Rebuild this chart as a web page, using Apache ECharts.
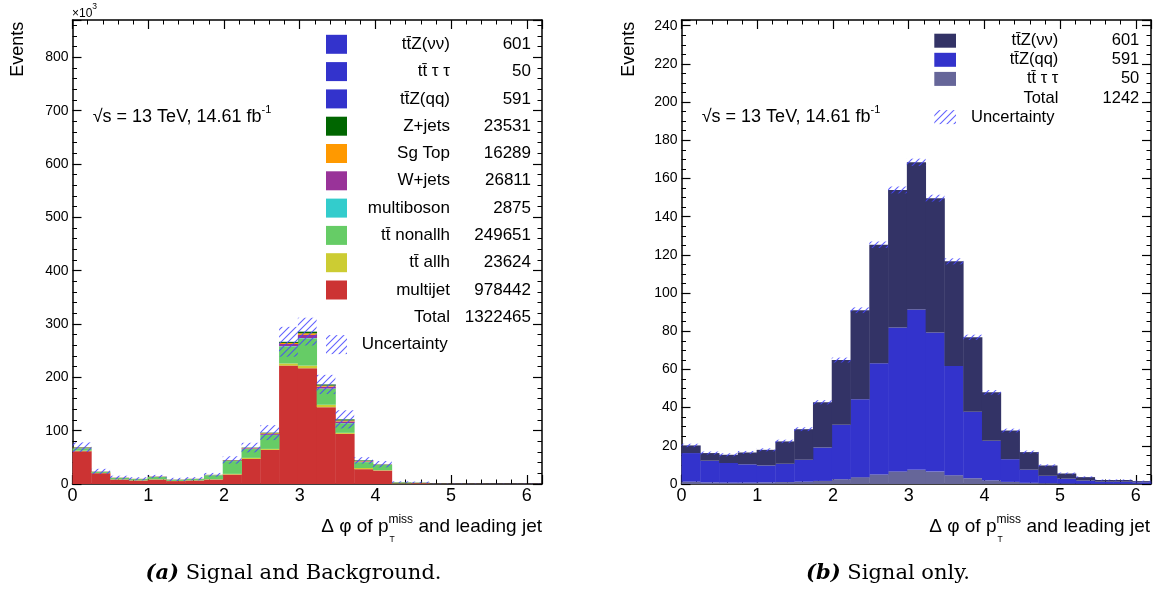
<!DOCTYPE html>
<html>
<head>
<meta charset="utf-8">
<script src="https://cdn.jsdelivr.net/npm/echarts@6/dist/echarts.min.js"></script>
<style>html,body{margin:0;padding:0;background:#fff}#chart{width:1165px;height:596px}</style>
</head>
<body>
<div id="chart"></div>
<script>
// ---------------- DATA ----------------
const N_BINS = 25, X_MIN = 0, X_MAX = 6.2;
const xTickLabels = [0, 1, 2, 3, 4, 5, 6];

// Left panel (Signal and Background), events x10^3, stack order bottom -> top
const multijet   = [61.5,20.3,8.4,6.6,8.4,5.5,6.6,8.4,17.8,47,64,222,217,144,94,27.8,25.3,1.0,1.5,0.3,0.2,0.2,0.1,0.1,0.1];
const ttAllh     = [1.0,0.4,0.3,0.3,0.4,0.3,0.3,0.5,1.2,2.0,1.8,4.0,5.0,4.6,2.0,2.2,0.7,0.1,0.1,0.05,0.02,0.02,0.01,0.01,0.01];
const ttNonallh  = [4.5,2.0,2.6,2.3,4.4,2.2,2.4,7.5,24,16.5,26,32,51,30,18,11,10,2.0,1.0,0.2,0.1,0.1,0.05,0.05,0.05];
const multiboson = [0.1,0.05,0.05,0.05,0.05,0.05,0.05,0.1,0.2,0.3,0.4,0.5,0.6,0.4,0.3,0.2,0.1,0.02,0.02,0.01,0.01,0.01,0,0,0];
const wJets      = [0.8,0.3,0.3,0.2,0.4,0.2,0.2,0.3,0.8,1.2,1.8,4.0,6.0,3.5,3.0,1.2,0.4,0.2,0.2,0.05,0.05,0.05,0.03,0.03,0.03];
const sgTop      = [0.5,0.2,0.2,0.15,0.2,0.15,0.15,0.2,0.5,0.6,1.2,2.0,3.0,2.0,1.8,0.8,0.3,0.1,0.1,0.05,0.03,0.03,0.02,0.02,0.02];
const zJets      = [0.6,0.2,0.2,0.15,0.2,0.15,0.15,0.2,0.5,0.6,1.0,2.0,3.0,2.0,2.0,1.0,0.3,0.1,0.1,0.05,0.03,0.03,0.02,0.02,0.02];
const leftUnc    = [9,5,3.5,3,3,3,3,3.5,7,9,14,28,26,18,17,6,6,1.5,1.5,0.3,0.3,0.3,0.2,0.2,0.2];

// Right panel (Signal only), events
const ttTauTau = [1.2,0.8,0.7,0.7,0.8,1.0,1.2,1.6,2.5,3.6,5.0,6.6,7.4,6.5,4.6,3.0,1.9,1.1,0.6,0.4,0.2,0.1,0.1,0.1,0.1];
const ttZqq    = [15.0,11.4,10.3,9.6,8.9,9.6,11.5,17.5,28.5,40.8,58.2,75.4,84.0,72.9,57.2,34.8,20.7,11.9,6.9,3.9,2.6,1.7,1.1,1.1,0.8];
const ttZvv    = [4.0,4.0,4.3,6.2,8.2,11.7,16.0,23.7,33.9,46.6,62.1,72.0,77.1,70.3,54.8,39.0,25.4,15.0,9.2,5.4,2.7,1.8,0.9,0.9,0.6];
const rightUnc = [0.9,0.8,0.8,0.8,0.8,0.9,1.0,1.1,1.3,1.5,1.7,1.8,1.9,1.8,1.6,1.4,1.2,1.0,0.8,0.6,0.5,0.4,0.3,0.3,0.3];

// Legends
const leftProcNames  = ['multijet','tt\u0304 allh','tt\u0304 nonallh','multiboson','W+jets','Sg Top','Z+jets','tt\u0304Z(qq)','tt\u0304 \u03c4 \u03c4','tt\u0304Z(\u03bd\u03bd)'];
const leftProcYields = ['978442','23624','249651','2875','26811','16289','23531','591','50','601'];
const leftTotalYield = '1322465';
const rightProcNames  = ['tt\u0304 \u03c4 \u03c4','tt\u0304Z(qq)','tt\u0304Z(\u03bd\u03bd)'];
const rightProcYields = ['50','591','601'];
const rightTotalYield = '1242';
const yLeftTicks  = { max: 870, interval: 100 };
const yRightTicks = { max: 243, interval: 20 };
const lumiText = '\u221as = 13 TeV, 14.61 fb';
const captions = [['(a)', ' Signal and Background.'], ['(b)', ' Signal only.']];

// ---------------- STYLE ----------------
const leftColors  = ['#cc3333','#cccc33','#66cc66','#33cccc','#993399','#ff9900','#006600','#3333cc','#3333cc','#3333cc'];
const rightColors = ['#666699','#3333cc','#333366'];
const FAM = '"Liberation Sans", Arial, Helvetica, sans-serif';
const SERIF = '"DejaVu Serif", "Liberation Serif", serif';

const leftValuesKilo = [multijet, ttAllh, ttNonallh, multiboson, wJets, sgTop, zJets,
  ttZqq.map(v => v / 1000), ttTauTau.map(v => v / 1000), ttZvv.map(v => v / 1000)];
const rightValues = [ttTauTau, ttZqq, ttZvv];

function makeHatch(color, s) {
  const c = document.createElement('canvas'); c.width = s; c.height = s;
  const g = c.getContext('2d'); g.strokeStyle = color; g.lineWidth = 1.1;
  g.beginPath();
  g.moveTo(0, s); g.lineTo(s, 0);
  g.moveTo(-s, s); g.lineTo(s, -s);
  g.moveTo(0, 2 * s); g.lineTo(2 * s, 0);
  g.stroke();
  return c;
}
const hatchImg = makeHatch('rgba(70,70,255,0.85)', 7);
const hatchFill = { image: hatchImg, repeat: 'repeat' };

const binW = (X_MAX - X_MIN) / N_BINS;
function renderBin(params, api) {
  const a = api.coord([api.value(0), api.value(3)]);
  const b = api.coord([api.value(1), api.value(2)]);
  return { type: 'rect', shape: { x: a[0], y: a[1], width: b[0] - a[0] + 0.4, height: b[1] - a[1] },
           style: { fill: api.visual('color') } };
}
function renderHatch(params, api) {
  const a = api.coord([api.value(0), api.value(3)]);
  const b = api.coord([api.value(1), api.value(2)]);
  return { type: 'rect', shape: { x: a[0], y: a[1], width: b[0] - a[0], height: b[1] - a[1] },
           style: { fill: hatchFill } };
}
function stackSeries(valuesList, names, colors, axIdx, unc) {
  const cum = new Array(N_BINS).fill(0);
  const out = valuesList.map((vals, k) => {
    const data = vals.map((v, i) => { const base = cum[i]; cum[i] += v; return [X_MIN + i * binW, X_MIN + (i + 1) * binW, base, cum[i]]; });
    return { type: 'custom', name: names[k], xAxisIndex: axIdx, yAxisIndex: axIdx, renderItem: renderBin,
             encode: { x: [0, 1], y: [2, 3] }, itemStyle: { color: colors[k] }, data, clip: true, silent: true };
  });
  const udata = unc.map((u, i) => [X_MIN + i * binW, X_MIN + (i + 1) * binW, Math.max(0, cum[i] - u), cum[i] + u]);
  out.push({ type: 'custom', name: 'Uncertainty', xAxisIndex: axIdx, yAxisIndex: axIdx, renderItem: renderHatch,
             encode: { x: [0, 1], y: [2, 3] }, data: udata, clip: true, silent: true, z: 5 });
  return out;
}

function xAx(grid, pos, labels) {
  return { type: 'value', gridIndex: grid, position: pos, min: X_MIN, max: X_MAX, interval: 1,
    axisLine: { show: true, onZero: false, lineStyle: { color: '#000', width: 1.5 } },
    axisTick: { show: true, inside: true, length: 9, lineStyle: { color: '#000', width: 1.2 } },
    minorTick: { show: true, splitNumber: 5, length: 4.5, lineStyle: { color: '#000', width: 1 } },
    splitLine: { show: false }, minorSplitLine: { show: false },
    axisLabel: { show: labels, color: '#000', fontSize: 18, fontFamily: FAM, margin: 3,
      formatter: v => (xTickLabels.indexOf(Math.round(v * 1000) / 1000) >= 0 ? String(Math.round(v)) : '') } };
}
function yAx(grid, pos, labels, t, minorSplit) {
  return { type: 'value', gridIndex: grid, position: pos, min: 0, max: t.max, interval: t.interval,
    axisLine: { show: true, onZero: false, lineStyle: { color: '#000', width: 1.5 } },
    axisTick: { show: true, inside: true, length: 9, lineStyle: { color: '#000', width: 1.2 } },
    minorTick: { show: true, splitNumber: minorSplit, length: 4.5, lineStyle: { color: '#000', width: 1 } },
    splitLine: { show: false }, minorSplitLine: { show: false },
    axisLabel: { show: labels, color: '#000', fontSize: 14, fontFamily: FAM, margin: 4,
      formatter: v => (Math.abs(v / t.interval - Math.round(v / t.interval)) < 1e-6 ? String(Math.round(v)) : '') } };
}

// ---------------- TEXT HELPERS ----------------
const mctx = document.createElement('canvas').getContext('2d');
function tw(text, size, fam, weight, style) {
  mctx.font = (style || 'normal') + ' ' + (weight || 'normal') + ' ' + size + 'px ' + (fam || FAM);
  return mctx.measureText(text).width;
}
function T(x, y, text, size, o) {
  o = o || {};
  const al = o.align || 'left', va = o.valign || 'middle';
  return { type: 'text', x, y, rotation: o.rotation || 0, silent: true, z: 100,
    style: { text, fill: o.color || '#000',
      font: (o.style || 'normal') + ' ' + (o.weight || 'normal') + ' ' + size + 'px ' + (o.fam || FAM),
      align: al, verticalAlign: va, textAlign: al, textVerticalAlign: va } };
}
function R(x, y, w, h, fill) {
  return { type: 'rect', silent: true, z: 100, shape: { x, y, width: w, height: h }, style: { fill } };
}

const G = [];
// Left legend
(function () {
  const boxX = 326, boxW = 21, boxH = 19, y0 = 44.3, dy = 27.3, nameR = 450, valR = 531, fs = 17;
  const order = leftProcNames.map((_, i) => leftProcNames.length - 1 - i);
  order.forEach((idx, r) => {
    const y = y0 + r * dy;
    G.push(R(boxX, y - boxH / 2, boxW, boxH, leftColors[idx]));
    G.push(T(nameR, y, leftProcNames[idx], fs, { align: 'right' }));
    G.push(T(valR, y, leftProcYields[idx], fs, { align: 'right' }));
  });
  let y = y0 + order.length * dy;
  G.push(T(nameR, y, 'Total', fs, { align: 'right' }));
  G.push(T(valR, y, leftTotalYield, fs, { align: 'right' }));
  y += dy;
  G.push(R(boxX, y - boxH / 2, boxW, boxH, hatchFill));
  G.push(T(361.7, y, 'Uncertainty', fs));
})();
// Right legend
(function () {
  const boxX = 934.3, boxW = 21.7, boxH = 14, y0 = 40.7, dy = 19.1, nameR = 1058.3, valR = 1139.3, fs = 16.5;
  const order = rightProcNames.map((_, i) => rightProcNames.length - 1 - i);
  order.forEach((idx, r) => {
    const y = y0 + r * dy;
    G.push(R(boxX, y - boxH / 2, boxW, boxH, rightColors[idx]));
    G.push(T(nameR, y, rightProcNames[idx], fs, { align: 'right' }));
    G.push(T(valR, y, rightProcYields[idx], fs, { align: 'right' }));
  });
  let y = y0 + order.length * dy;
  G.push(T(nameR, y, 'Total', fs, { align: 'right' }));
  G.push(T(valR, y, rightTotalYield, fs, { align: 'right' }));
  y += dy;
  G.push(R(boxX, y - boxH / 2, boxW, boxH, hatchFill));
  G.push(T(971, y, 'Uncertainty', fs));
})();
// Lumi labels
function lumi(x, y) {
  const fs = 18;
  G.push(T(x, y, lumiText, fs));
  G.push(T(x + tw(lumiText, fs), y - 7, '-1', 11));
}
lumi(92.7, 116.7);
lumi(701.7, 116.7);
// x10^3
G.push(T(72, 14, '\u00d710', 12));
G.push(T(72 + tw('\u00d710', 12), 7, '3', 8.5));
// Events
G.push(T(18, 21.7, 'Events', 18, { align: 'right', rotation: Math.PI / 2 }));
G.push(T(629, 21.7, 'Events', 18, { align: 'right', rotation: Math.PI / 2 }));
// x axis titles
function xTitle(xr, y) {
  const fs = 19, p1 = '\u0394 \u03c6 of p', sup = 'miss', sub = 'T', p3 = ' and leading jet';
  const w1 = tw(p1, fs), ws = tw(sup, 12), w3 = tw(p3, fs);
  const x0 = xr - (w1 + ws + w3);
  G.push(T(x0, y, p1, fs));
  G.push(T(x0 + w1, y - 7.5, sup, 12));
  G.push(T(x0 + w1 + 1, y + 12.5, sub, 8.5));
  G.push(T(x0 + w1 + ws, y, p3, fs));
}
xTitle(542, 527);
xTitle(1150, 527);
// captions
function caption(cx, y, parts) {
  const fs = 21;
  const wa = tw(parts[0], fs, SERIF, 'bold', 'italic'), wb = tw(parts[1], fs, SERIF);
  const x0 = cx - (wa + wb) / 2;
  G.push(T(x0, y, parts[0], fs, { fam: SERIF, weight: 'bold', style: 'italic' }));
  G.push(T(x0 + wa, y, parts[1], fs, { fam: SERIF }));
}
caption(293.5, 574, captions[0]);
caption(888, 574, captions[1]);

// ---------------- CHART ----------------
const chart = echarts.init(document.getElementById('chart'), null, { renderer: 'canvas' });
chart.setOption({
  animation: false,
  backgroundColor: '#fff',
  grid: [
    { left: 72.5, top: 20, width: 469.5, height: 464, containLabel: false },
    { left: 681.5, top: 20, width: 469.5, height: 464, containLabel: false }
  ],
  xAxis: [xAx(0, 'bottom', true), xAx(0, 'top', false), xAx(1, 'bottom', true), xAx(1, 'top', false)],
  yAxis: [yAx(0, 'left', true, yLeftTicks, 5), yAx(0, 'right', false, yLeftTicks, 5),
          yAx(1, 'left', true, yRightTicks, 4), yAx(1, 'right', false, yRightTicks, 4)],
  series: [].concat(
    stackSeries(leftValuesKilo, leftProcNames, leftColors, 0, leftUnc),
    stackSeries(rightValues, rightProcNames, rightColors, 2, rightUnc)
  ),
  graphic: { elements: G }
});
</script>
</body>
</html>
